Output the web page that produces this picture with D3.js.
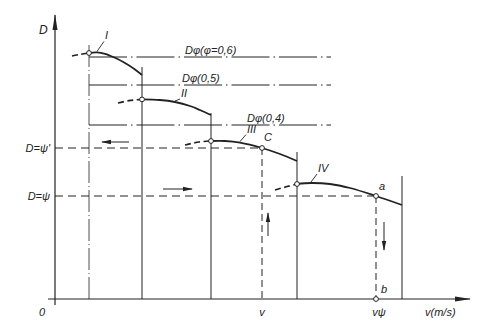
<!DOCTYPE html>
<html>
<head>
<meta charset="utf-8">
<script src="https://cdn.jsdelivr.net/npm/d3@7"></script>
<style>
  body { margin: 0; background: #fff; }
  svg text { font-family: "Liberation Sans", Arial, sans-serif; font-style: italic; fill: #222; }
</style>
</head>
<body>
<svg id="chart" width="502" height="328"></svg>
<script>
"use strict";

// limit speeds (vertical lines) and the height where each one stops
var limitV = [17, 43.5, 78, 121, 173.5];
var limitTop = [128, 116, 93, 73.5, 61.5];

// D-phi levels
var phiLevels = [121, 107, 87];
var phiLabels = ["Dφ(φ=0,6)", "Dφ(0,5)", "Dφ(0,4)"];
var phiEnd = 138;

// D = psi' and D = psi levels
var psiLevels = [75.5, 51.5];
var psiLabels = ["D=ψ'", "D=ψ"];

// characteristic curves, dashed start then solid part
var curveNames = ["I", "II", "III", "IV"];
var curveDash = [
  [[8.5, 121.5], [12.5, 122.3], [17, 123]],
  [[31.5, 98], [37, 99.2], [43.5, 99.8]],
  [[65, 77], [72, 78.5], [78, 79]],
  [[110, 54.5], [116, 56.2], [121, 57.5]]
];
var curveSolid = [
  [[17, 123], [21, 123.3], [25, 122.6], [30, 120.6], [35, 118], [40, 114.8], [43.5, 112]],
  [[43.5, 99.8], [52.5, 99.5], [60, 98.5], [67.5, 96.5], [72.5, 94.5], [78, 92]],
  [[78, 79], [85, 79], [92.5, 78.2], [103.5, 75.5], [112.5, 72.5], [121, 69]],
  [[121, 57.5], [128, 58], [137.5, 57.5], [147.5, 55.5], [160.5, 51.5], [173.5, 47]]
];

// operating points C, a, b
var pointNames = ["C", "a", "b"];
var pointV = [103.5, 160.5, 160.5];
var pointD = [75.5, 51.5, 0];

// x axis labels
var xLabels = ["v", "vψ"];
var xLabelV = [103.5, 162];

var svg = d3.select("#chart"),
  ink = "#222";

var x = d3.scaleLinear().domain([0, 207.5]).range([55, 470]),
  y = d3.scaleLinear().domain([0, 142]).range([299, 15]);

var line = d3.line()
  .x(function (d) { return x(d[0]); })
  .y(function (d) { return y(d[1]); })
  .curve(d3.curveCatmullRom);

// arrow heads
var defs = svg.append("defs");
defs.append("marker")
  .attr("id", "axisHead")
  .attr("viewBox", "0 0 16 6")
  .attr("refX", 15).attr("refY", 3)
  .attr("markerWidth", 16).attr("markerHeight", 6)
  .attr("markerUnits", "userSpaceOnUse")
  .attr("orient", "auto")
  .append("path").attr("d", "M0,0.5L16,3L0,5.5Z").attr("fill", ink);
defs.append("marker")
  .attr("id", "smallHead")
  .attr("viewBox", "0 0 10 6")
  .attr("refX", 9).attr("refY", 3)
  .attr("markerWidth", 10).attr("markerHeight", 6)
  .attr("markerUnits", "userSpaceOnUse")
  .attr("orient", "auto")
  .append("path").attr("d", "M0,0.8L10,3L0,5.2Z").attr("fill", ink);

// axes
svg.append("line")
  .attr("x1", x(0)).attr("y1", y(0) + 6)
  .attr("x2", x(0)).attr("y2", y(142))
  .attr("stroke", ink).attr("stroke-width", 1.2)
  .attr("marker-end", "url(#axisHead)");
svg.append("line")
  .attr("x1", x(0) - 7).attr("y1", y(0))
  .attr("x2", x(207.5)).attr("y2", y(0))
  .attr("stroke", ink).attr("stroke-width", 1.2)
  .attr("marker-end", "url(#axisHead)");

// limit verticals (first one dash-dot)
svg.selectAll(".limit")
  .data(limitV)
  .enter()
  .append("line")
  .attr("class", "limit")
  .attr("x1", function (d) { return x(d); })
  .attr("x2", function (d) { return x(d); })
  .attr("y1", y(0))
  .attr("y2", function (d, i) { return y(limitTop[i]); })
  .attr("stroke", ink)
  .attr("stroke-width", function (d, i) { return i === 0 ? 0.8 : 1; })
  .attr("stroke-dasharray", function (d, i) { return i === 0 ? "22,3,1,3" : null; });

// D-phi dash-dot levels
svg.selectAll(".phi")
  .data(phiLevels)
  .enter()
  .append("line")
  .attr("class", "phi")
  .attr("x1", x(limitV[0]))
  .attr("x2", x(phiEnd))
  .attr("y1", function (d) { return y(d); })
  .attr("y2", function (d) { return y(d); })
  .attr("stroke", ink)
  .attr("stroke-width", 1)
  .attr("stroke-dasharray", "38,4,1.5,4");

var phiLabelX = [185, 182, 247];
svg.selectAll(".phiLabel")
  .data(phiLabels)
  .enter()
  .append("text")
  .attr("class", "phiLabel")
  .attr("x", function (d, i) { return phiLabelX[i]; })
  .attr("y", function (d, i) { return y(phiLevels[i]) - 3; })
  .attr("font-size", 11)
  .text(function (d) { return d; });

// psi dashed levels, running to C and a
svg.selectAll(".psi")
  .data(psiLevels)
  .enter()
  .append("line")
  .attr("class", "psi")
  .attr("x1", x(0))
  .attr("x2", function (d, i) { return x(pointV[i]); })
  .attr("y1", function (d) { return y(d); })
  .attr("y2", function (d) { return y(d); })
  .attr("stroke", ink)
  .attr("stroke-width", 1)
  .attr("stroke-dasharray", "8,5");

svg.selectAll(".psiLabel")
  .data(psiLabels)
  .enter()
  .append("text")
  .attr("class", "psiLabel")
  .attr("x", x(0) - 5)
  .attr("y", function (d, i) { return y(psiLevels[i]) + 4; })
  .attr("text-anchor", "end")
  .attr("font-size", 11)
  .text(function (d) { return d; });

// dashed drops from C and a to the v axis
svg.selectAll(".drop")
  .data([0, 1])
  .enter()
  .append("line")
  .attr("class", "drop")
  .attr("x1", function (i) { return x(pointV[i]); })
  .attr("x2", function (i) { return x(pointV[i]); })
  .attr("y1", function (i) { return y(pointD[i]); })
  .attr("y2", y(0))
  .attr("stroke", ink)
  .attr("stroke-width", 1)
  .attr("stroke-dasharray", "7,4");

// curves
svg.selectAll(".curveDash")
  .data(curveDash)
  .enter()
  .append("path")
  .attr("class", "curveDash")
  .attr("d", line)
  .attr("fill", "none")
  .attr("stroke", ink)
  .attr("stroke-width", 1.6)
  .attr("stroke-dasharray", "6,3.5");

svg.selectAll(".curveSolid")
  .data(curveSolid)
  .enter()
  .append("path")
  .attr("class", "curveSolid")
  .attr("d", line)
  .attr("fill", "none")
  .attr("stroke", ink)
  .attr("stroke-width", 1.8);

// curve names with short leaders
var leaderAt = [1, 2, 2, 1];
var nameOffset = [[8, -12], [6, -4], [7, -9], [7, -10]];
curveNames.forEach(function (name, i) {
  var p = curveSolid[i][leaderAt[i]],
    px = x(p[0]),
    py = y(p[1]) - 1,
    off = nameOffset[i];
  svg.append("line")
    .attr("x1", px).attr("y1", py)
    .attr("x2", px + off[0] - 1).attr("y2", py + off[1] + 2)
    .attr("stroke", ink).attr("stroke-width", 0.9);
  svg.append("text")
    .attr("x", px + off[0])
    .attr("y", py + off[1])
    .attr("font-size", 11)
    .text(name);
});

// hollow markers at curve starts and operating points
var rings = curveSolid.map(function (c) { return c[0]; })
  .concat(pointV.map(function (v, i) { return [v, pointD[i]]; }));
svg.selectAll(".ring")
  .data(rings)
  .enter()
  .append("circle")
  .attr("class", "ring")
  .attr("cx", function (d) { return x(d[0]); })
  .attr("cy", function (d) { return y(d[1]); })
  .attr("r", 2.4)
  .attr("fill", "#fff")
  .attr("stroke", ink)
  .attr("stroke-width", 1);

var pointOffset = [[2, -7], [3, -6], [5, -6]];
svg.selectAll(".pointLabel")
  .data(pointNames)
  .enter()
  .append("text")
  .attr("class", "pointLabel")
  .attr("x", function (d, i) { return x(pointV[i]) + pointOffset[i][0]; })
  .attr("y", function (d, i) { return y(pointD[i]) + pointOffset[i][1]; })
  .attr("font-size", 11)
  .text(function (d) { return d; });

// direction arrows
var arrows = [
  [[37, 78.5], [23.5, 78.5]],
  [[54, 55], [68.5, 55]],
  [[106.5, 31.5], [106.5, 43]],
  [[164.5, 38.5], [164.5, 24.5]]
];
svg.selectAll(".arrow")
  .data(arrows)
  .enter()
  .append("line")
  .attr("class", "arrow")
  .attr("x1", function (d) { return x(d[0][0]); })
  .attr("y1", function (d) { return y(d[0][1]); })
  .attr("x2", function (d) { return x(d[1][0]); })
  .attr("y2", function (d) { return y(d[1][1]); })
  .attr("stroke", ink)
  .attr("stroke-width", 1)
  .attr("marker-end", "url(#smallHead)");

// axis labels
svg.selectAll(".xLabel")
  .data(xLabels)
  .enter()
  .append("text")
  .attr("class", "xLabel")
  .attr("x", function (d, i) { return x(xLabelV[i]); })
  .attr("y", y(0) + 17)
  .attr("text-anchor", "middle")
  .attr("font-size", 11)
  .text(function (d) { return d; });

svg.append("text").attr("x", 425).attr("y", y(0) + 17)
  .attr("font-size", 11).text("v(m/s)");
svg.append("text").attr("x", 39).attr("y", 34)
  .attr("font-size", 12).text("D");
svg.append("text").attr("x", 39).attr("y", 316)
  .attr("font-size", 11).text("0");
</script>
</body>
</html>
